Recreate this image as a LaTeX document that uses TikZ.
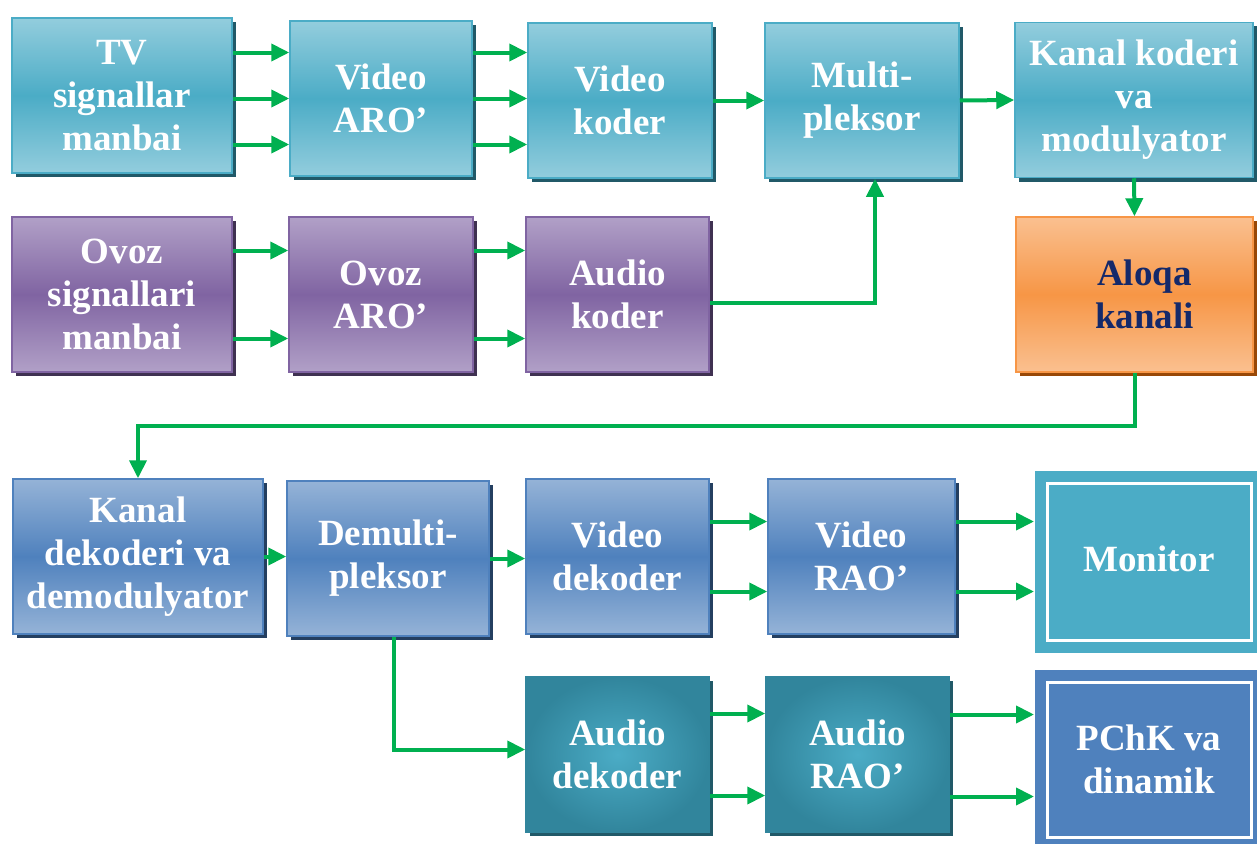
\documentclass[tikz,border=0pt]{standalone}
\usepackage{fontspec}
\setmainfont{Liberation Serif}
\usepackage{tikz}
\usetikzlibrary{calc, arrows.meta, shadows}

\definecolor{cyanlight}{HTML}{93CDDD}
\definecolor{cyanmid}{HTML}{4BACC6}
\definecolor{cyanshadow}{HTML}{215968}
\definecolor{purplelight}{HTML}{B1A0C7}
\definecolor{purplemid}{HTML}{8064A2}
\definecolor{purpleshadow}{HTML}{3F3151}
\definecolor{orangelight}{HTML}{FAC090}
\definecolor{orangemid}{HTML}{F79646}
\definecolor{orangeshadow}{HTML}{984807}
\definecolor{bluelight}{HTML}{95B3D7}
\definecolor{bluemid}{HTML}{4F81BD}
\definecolor{blueshadow}{HTML}{243F60}
\definecolor{tealouter}{HTML}{31859C}
\definecolor{arrowgreen}{HTML}{00B050}
\definecolor{navytext}{HTML}{14296A}

\newcommand{\boxfont}{\bfseries\fontsize{37bp}{43bp}\selectfont}

\tikzset{
  boxsize/.style 2 args={minimum width=#1bp, minimum height=#2bp},
  basebox/.style={rectangle, inner sep=0pt, align=center, text=white, font=\boxfont, line width=1.5bp},
  cyanbox/.style={basebox, draw=cyanmid, top color=cyanlight, bottom color=cyanlight, middle color=cyanmid,
    drop shadow={shadow xshift=4bp, shadow yshift=-4bp, opacity=1, fill=cyanshadow}},
  purplebox/.style={basebox, draw=purplemid, top color=purplelight, bottom color=purplelight, middle color=purplemid,
    drop shadow={shadow xshift=4bp, shadow yshift=-4bp, opacity=1, fill=purpleshadow}},
  orangebox/.style={basebox, draw=orangemid, top color=orangelight, bottom color=orangelight, middle color=orangemid,
    text=navytext, drop shadow={shadow xshift=4bp, shadow yshift=-4bp, opacity=1, fill=orangeshadow}},
  bluebox/.style={basebox, draw=bluemid, top color=bluelight, bottom color=bluelight, middle color=bluemid,
    drop shadow={shadow xshift=4bp, shadow yshift=-4bp, opacity=1, fill=blueshadow}},
  tealbox/.style={basebox, draw=tealouter, inner color=cyanmid, outer color=tealouter,
    drop shadow={shadow xshift=4bp, shadow yshift=-4bp, opacity=1, fill=cyanshadow}},
  framedbox/.style={basebox, draw=#1, fill=#1, line width=11bp, double=white, double distance=3bp, outer sep=13bp},
  arr/.style={draw=arrowgreen, line width=4bp, -{Triangle[length=18bp, width=17bp]}}
}

\begin{document}
\begin{tikzpicture}[x=1bp, y=-1bp]
\useasboundingbox (0,0) rectangle (1257,844);

\node[cyanbox, boxsize={220}{155}] (tv) at (122,95.5) {TV\\signallar\\manbai};
\node[cyanbox, boxsize={182}{155}] (varo) at (381,98.5) {Video\\ARO’};
\node[cyanbox, boxsize={184}{155}] (vkod) at (620,100.5) {Video\\koder};
\node[cyanbox, boxsize={194}{155}] (multi) at (862,100.5) {Multi-\\pleksor};
\node[cyanbox, boxsize={238}{155}] (kkod) at (1134,100) {Kanal koderi\\va\\modulyator};

\node[purplebox, boxsize={220}{155}] (ovoz) at (122,294.5) {Ovoz\\signallari\\manbai};
\node[purplebox, boxsize={184}{155}] (oaro) at (381,294.5) {Ovoz\\ARO’};
\node[purplebox, boxsize={183}{155}] (akod) at (617.5,294.5) {Audio\\koder};
\node[orangebox, boxsize={237}{155}] (aloqa) at (1134.5,294.5) {\hspace*{20bp}Aloqa\\\hspace*{20bp}kanali};

\node[bluebox, boxsize={250}{155}] (kdek) at (138,556.5) {Kanal\\dekoderi va\\demodulyator};
\node[bluebox, boxsize={202}{155}] (demux) at (388,558.5) {Demulti-\\pleksor};
\node[bluebox, boxsize={183}{155}] (vdek) at (617.5,556.5) {Video\\dekoder};
\node[bluebox, boxsize={187}{155}] (vrao) at (861.5,556.5) {Video\\RAO’};
\node[framedbox=cyanmid, boxsize={204}{157}] (mon) at (1149,561.5) {\raisebox{5bp}{Monitor}};

\node[tealbox, boxsize={183}{155}] (adek) at (617.5,754.5) {Audio\\dekoder};
\node[tealbox, boxsize={183}{155}] (arao) at (857.5,754.5) {Audio\\RAO’};
\node[framedbox=bluemid, boxsize={204}{155}] (pchk) at (1149,759.5) {PChK va\\dinamik};

\foreach \dy in {-46,0,46} {
  \draw[arr] ($(varo.west -| tv.east)+(0,\dy)$) -- ($(varo.west)+(0,\dy)$);
  \draw[arr] ($(varo.east)+(0,\dy)$) -- ($(varo.east -| vkod.west)+(0,\dy)$);
}
\draw[arr] (vkod.east) -- (multi.west);
\draw[arr] (multi.east) -- (kkod.west);
\draw[arr] (kkod.south) -- (aloqa.north);

\foreach \dy in {-44,44} {
  \draw[arr] ($(oaro.west -| ovoz.east)+(0,\dy)$) -- ($(oaro.west)+(0,\dy)$);
  \draw[arr] ($(oaro.east)+(0,\dy)$) -- ($(oaro.east -| akod.west)+(0,\dy)$);
}
\draw[arr] ($(akod.east)+(0,8)$) -| ($(multi.south)+(13,0)$);

\draw[arr] (aloqa.south) -- ++(0,53) -| (kdek.north);
\draw[arr] (kdek.east) -- (kdek.east -| demux.west);
\draw[arr] (demux.east) -- (demux.east -| vdek.west);
\draw[arr] ($(demux.south)+(6,0)$) |- ($(adek.west)+(0,-5)$);

\foreach \dy in {-35,35} {
  \draw[arr] ($(vrao.west -| vdek.east)+(0,\dy)$) -- ($(vrao.west)+(0,\dy)$);
  \draw[arr] ($(vrao.east)+(0,\dy)$) -- ($(vrao.east -| mon.west)+(0,\dy)$);
}
\foreach \dy in {-41,41} {
  \draw[arr] ($(adek.east)+(0,\dy)$) -- ($(adek.east -| arao.west)+(0,\dy)$);
}
\foreach \dy in {-40,42} {
  \draw[arr] ($(arao.east)+(0,\dy)$) -- ($(arao.east -| pchk.west)+(0,\dy)$);
}
\end{tikzpicture}
\end{document}
